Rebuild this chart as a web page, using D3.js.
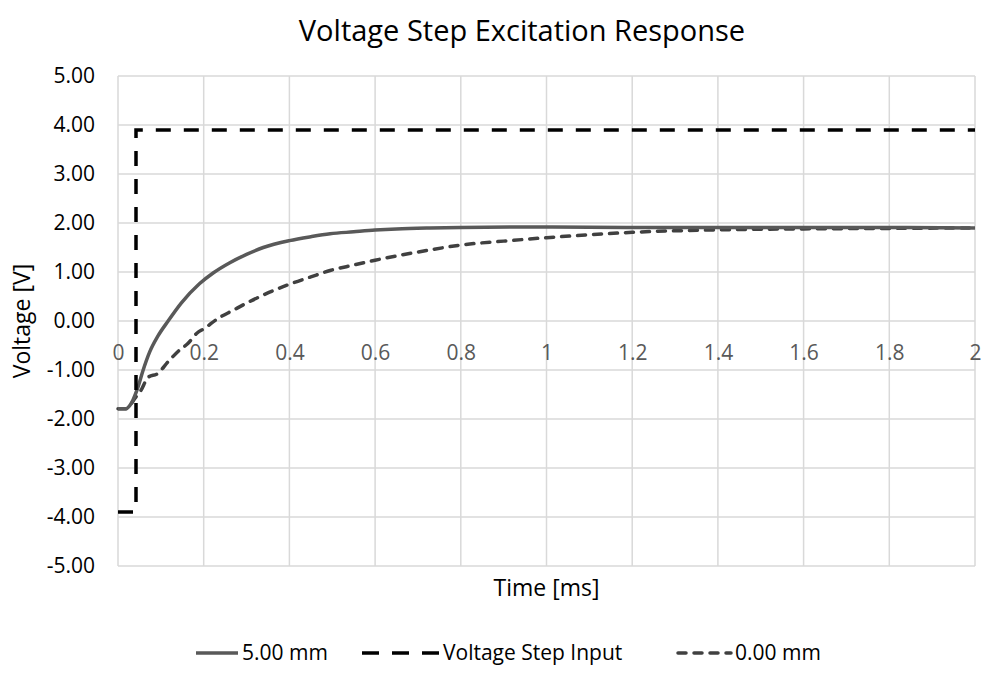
<!DOCTYPE html>
<html>
<head>
<meta charset="utf-8">
<script src="https://cdn.jsdelivr.net/npm/d3@7/dist/d3.min.js"></script>
<style>
  html, body { margin: 0; padding: 0; background: #ffffff; }
  svg text { font-family: "Open Sans", "DejaVu Sans", sans-serif; }
</style>
</head>
<body>
<svg id="chart" width="981" height="673"></svg>
<script>
// ---------- data ----------
const chartTitle = "Voltage Step Excitation Response";
const xAxisTitle = "Time [ms]";
const yAxisTitle = "Voltage [V]";

const xTicks = [0, 0.2, 0.4, 0.6, 0.8, 1, 1.2, 1.4, 1.6, 1.8, 2];
const yTicks = [-5, -4, -3, -2, -1, 0, 1, 2, 3, 4, 5];

const seriesNames = ["5.00 mm", "Voltage Step Input", "0.00 mm"];

// 5.00 mm (solid)
const time5mm = [0, 0.019, 0.028, 0.035, 0.047, 0.058, 0.074, 0.093, 0.117, 0.148, 0.19, 0.222, 0.261, 0.3, 0.339, 0.4, 0.45, 0.495, 0.55, 0.6, 0.65, 0.728, 0.8, 1.0, 1.2, 1.4, 1.6, 1.8, 2.0];
const volt5mm = [-1.79, -1.79, -1.72, -1.61, -1.34, -1.02, -0.63, -0.31, 0.00, 0.37, 0.76, 0.98, 1.19, 1.36, 1.50, 1.64, 1.72, 1.78, 1.82, 1.855, 1.88, 1.90, 1.91, 1.92, 1.91, 1.91, 1.91, 1.91, 1.90];

// Voltage Step Input (black dashed)
const timeStep = [0, 0.042, 0.042, 2.0];
const voltStep = [-3.9, -3.9, 3.9, 3.9];

// 0.00 mm (gray dashed)
const time0mm = [0, 0.019, 0.03, 0.04, 0.054, 0.07, 0.093, 0.117, 0.144, 0.163, 0.184, 0.202, 0.233, 0.269, 0.308, 0.339, 0.4, 0.45, 0.495, 0.549, 0.6, 0.728, 0.8, 0.9, 1.0, 1.1, 1.2, 1.4, 1.6, 1.8, 2.0];
const volt0mm = [-1.79, -1.79, -1.70, -1.57, -1.41, -1.15, -1.07, -0.83, -0.59, -0.46, -0.25, -0.15, 0.05, 0.22, 0.40, 0.53, 0.75, 0.90, 1.03, 1.14, 1.24, 1.45, 1.55, 1.63, 1.70, 1.76, 1.81, 1.86, 1.88, 1.89, 1.90];

// ---------- layout ----------
const svg = d3.select("#chart");
const plot = { left: 118, right: 975, top: 76, bottom: 566 };

const x = d3.scaleLinear().domain([0, 2]).range([plot.left, plot.right]);
const y = d3.scaleLinear().domain([-5, 5]).range([plot.bottom, plot.top]);

const gridColor = "#d9d9d9";
const locale = d3.formatLocale({ decimal: ".", thousands: ",", grouping: [3], currency: ["", ""], minus: "-" });

// gridlines
svg.append("g").selectAll("line").data(yTicks).join("line")
  .attr("x1", plot.left).attr("x2", plot.right)
  .attr("y1", d => y(d)).attr("y2", d => y(d))
  .attr("stroke", gridColor).attr("stroke-width", 1.5);
svg.append("g").selectAll("line").data(xTicks).join("line")
  .attr("x1", d => x(d)).attr("x2", d => x(d))
  .attr("y1", plot.top).attr("y2", plot.bottom)
  .attr("stroke", gridColor).attr("stroke-width", 1.5);

// y axis labels
const yAxis = d3.axisLeft(y).tickValues(yTicks).tickSize(0).tickPadding(0)
  .tickFormat(locale.format(".2f"));
const gy = svg.append("g").attr("transform", `translate(95,0)`).call(yAxis);
gy.select(".domain").remove();
gy.selectAll("text").attr("font-size", 21).attr("fill", "#000")
  .attr("font-family", "Open Sans");

// x axis labels (axis crosses at y=0)
const xAxis = d3.axisBottom(x).tickValues(xTicks).tickSize(0).tickPadding(0)
  .tickFormat(locale.format(""));
const gx = svg.append("g").attr("transform", `translate(0,${y(0) + 39})`).call(xAxis);
gx.select(".domain").remove();
gx.selectAll("text").attr("font-size", 21).attr("fill", "#595959")
  .attr("font-family", "Open Sans").attr("dy", "0");

// lines
const mkData = (ts, vs) => ts.map((t, i) => [t, vs[i]]);
const smooth = d3.line().x(d => x(d[0])).y(d => y(d[1])).curve(d3.curveMonotoneX);
const straight = d3.line().x(d => x(d[0])).y(d => y(d[1]));

svg.append("path").datum(mkData(time0mm, volt0mm))
  .attr("d", smooth).attr("fill", "none")
  .attr("stroke", "#404040").attr("stroke-width", 3.5)
  .attr("stroke-dasharray", "8,8").attr("stroke-linecap", "round");

svg.append("path").datum(mkData(time5mm, volt5mm))
  .attr("d", smooth).attr("fill", "none")
  .attr("stroke", "#595959").attr("stroke-width", 3.5)
  .attr("stroke-linejoin", "round");

svg.append("path").datum(mkData(timeStep, voltStep))
  .attr("d", straight).attr("fill", "none")
  .attr("stroke", "#000000").attr("stroke-width", 3.5)
  .attr("stroke-dasharray", "15,13");

// titles
svg.append("text").attr("x", 522).attr("y", 41).attr("text-anchor", "middle")
  .attr("font-size", 29).attr("fill", "#000").text(chartTitle);
svg.append("text").attr("x", (plot.left + plot.right) / 2).attr("y", 596)
  .attr("text-anchor", "middle").attr("font-size", 23).attr("fill", "#000").text(xAxisTitle);
svg.append("text").attr("transform", `translate(30,${y(0)}) rotate(-90)`)
  .attr("text-anchor", "middle").attr("font-size", 23).attr("fill", "#000").text(yAxisTitle);

// legend
const legendY = 653;
const legendItems = [
  { name: seriesNames[0], x1: 196, x2: 238, color: "#595959", dash: null, cap: "butt" },
  { name: seriesNames[1], x1: 362, x2: 439, color: "#000000", dash: "17,13", cap: "butt" },
  { name: seriesNames[2], x1: 678, x2: 731, color: "#404040", dash: "8,8", cap: "round" }
];
const lg = svg.append("g");
legendItems.forEach(it => {
  const l = lg.append("line").attr("x1", it.x1).attr("x2", it.x2)
    .attr("y1", legendY).attr("y2", legendY)
    .attr("stroke", it.color).attr("stroke-width", 3.5).attr("stroke-linecap", it.cap);
  if (it.dash) l.attr("stroke-dasharray", it.dash);
  lg.append("text").attr("x", it.x2 + 4).attr("y", legendY).attr("dy", "0.35em")
    .attr("font-size", 21).attr("fill", "#000").text(it.name);
});
</script>
</body>
</html>
